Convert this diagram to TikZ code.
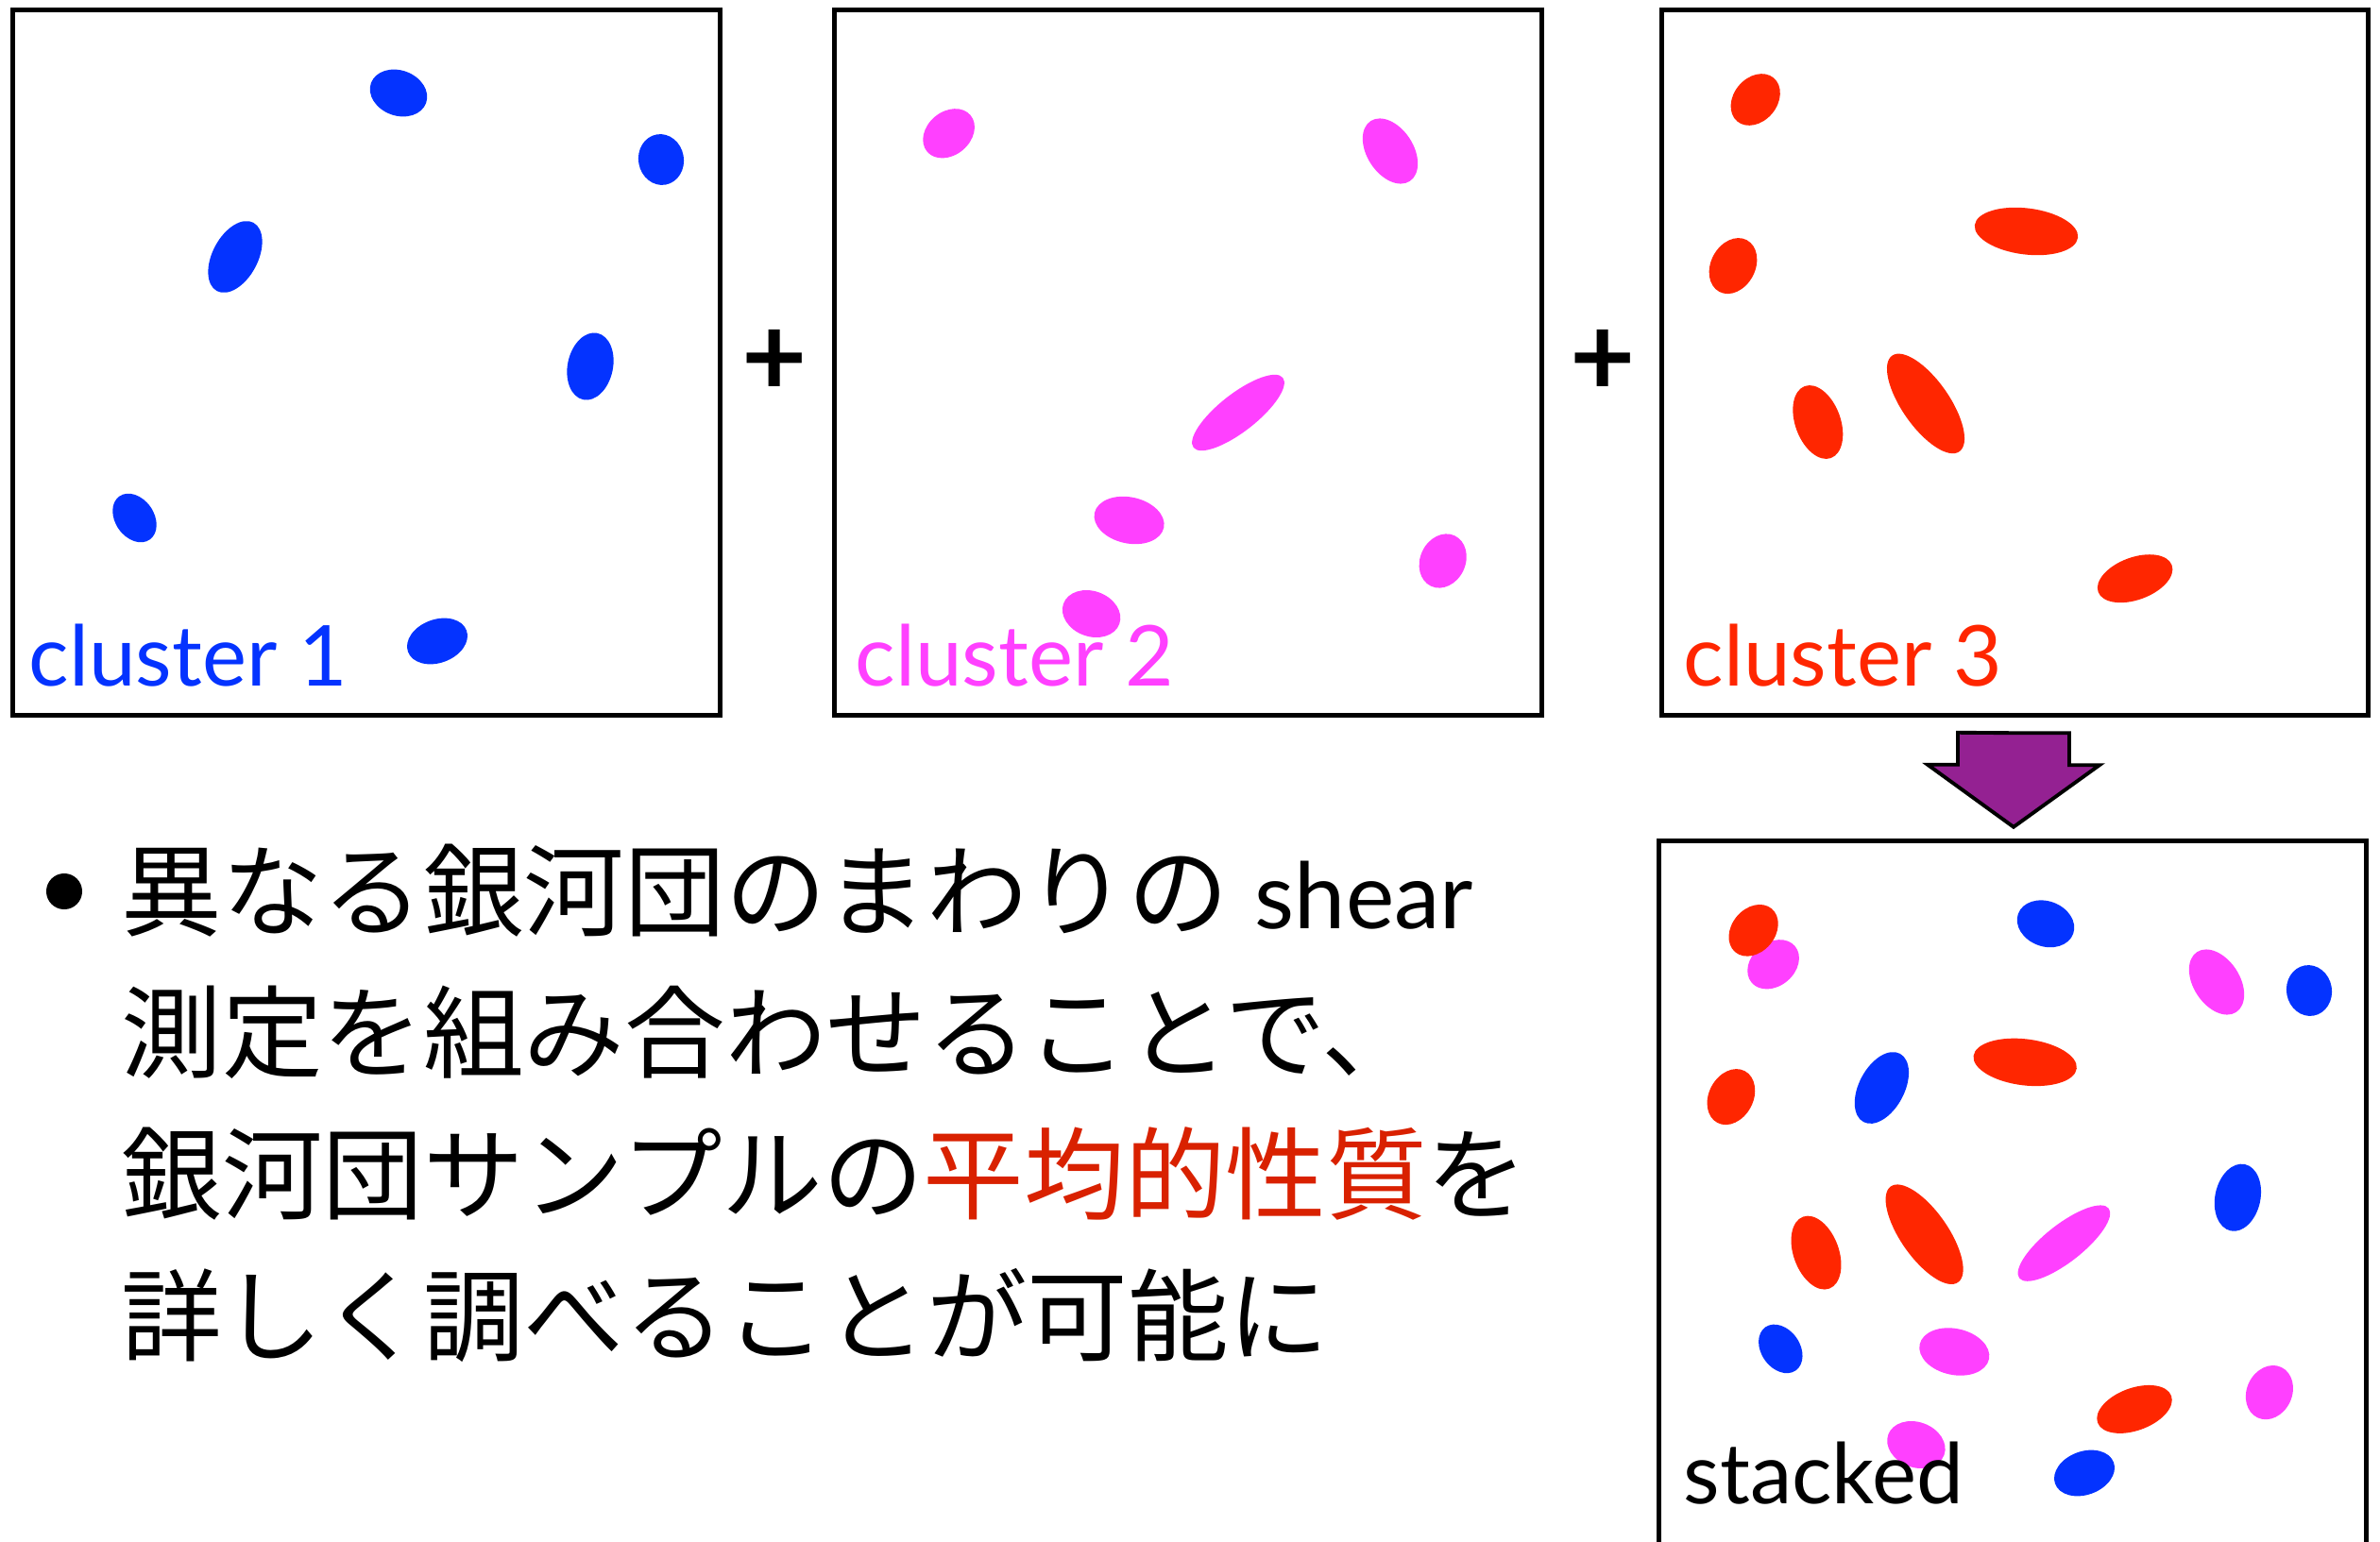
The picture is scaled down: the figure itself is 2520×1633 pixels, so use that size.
\documentclass[tikz,border=0pt]{standalone}
\usepackage{fontspec}
\setmainfont{Lato}
\newfontfamily\cjk{Noto Sans CJK JP}
\newfontfamily\latin{Lato}
\usetikzlibrary{calc}
\definecolor{gblue}{RGB}{4,51,255}
\definecolor{gpink}{RGB}{255,64,255}
\definecolor{gred}{RGB}{255,38,0}
\definecolor{tred}{RGB}{217,33,0}
\definecolor{plum}{RGB}{148,33,146}
\newcommand\galaxy[6]{\fill[#1,rotate around={#6:(#2,#3)}] (#2,#3) ellipse [x radius=#4, y radius=#5];}
\begin{document}
\begin{tikzpicture}[x=0.01cm,y=-0.01cm,
 panel/.style={draw=black,line width=1.4pt,minimum width=7.48cm,minimum height=7.46cm,inner sep=0,outer sep=0},
 lbl/.style={anchor=base west,inner sep=0,font=\latin\fontsize{25.3}{30}\selectfont},
 body/.style={anchor=base west,inner sep=0,font=\cjk\fontsize{30.3}{36}\selectfont},
 plussign/.style={inner sep=0,font=\latin\bfseries\fontsize{34}{38}\selectfont},
 bigarrow/.style={draw=black,line width=1.1pt,fill=plum,line join=miter}]
\useasboundingbox (0,0) rectangle (2520,1633);
\clip (0,0) rectangle (2520,1633);
\fill[white] (0,0) rectangle (2520,1633);

% panels
\node[panel] (b1) at (388,384) {};
\node[panel] (b2) at (1258,384) {};
\node[panel] (b3) at (2133.5,384) {};
\node[panel] (st) at (2131,1264) {};

% plus signs
\node[plussign] (p1) at (820,384) {+};
\node[plussign] (p2) at (1697,384) {+};

% cluster 1
\galaxy{gblue}{422}{98.5}{31}{24}{-20}
\galaxy{gblue}{700}{169}{27}{24}{100}
\galaxy{gblue}{249}{272}{41}{24}{62}
\galaxy{gblue}{625}{388}{36}{24}{78}
\galaxy{gblue}{142.5}{548.5}{28}{20.5}{-55}
\galaxy{gblue}{463}{679}{33}{23}{20}

% cluster 2
\galaxy{gpink}{1004.6}{141.3}{30}{23}{40}
\galaxy{gpink}{1472}{160}{38}{24.5}{-57}
\galaxy{gpink}{1311}{437}{60}{20}{38}
\galaxy{gpink}{1195.6}{551}{37.5}{24.5}{-12}
\galaxy{gpink}{1527.7}{594}{29.5}{24}{65}
\galaxy{gpink}{1155.6}{650}{31.5}{24}{-20}

% cluster 3
\galaxy{gred}{1858.7}{105.5}{30}{23}{50}
\galaxy{gred}{2145.5}{245}{55}{24.5}{-7}
\galaxy{gred}{1835}{281.6}{31}{23.5}{62}
\galaxy{gred}{1924.8}{447}{40.5}{24}{-70}
\galaxy{gred}{2039}{427.4}{62}{25}{-55}
\galaxy{gred}{2260.6}{612.7}{41.5}{22.5}{20}

% stacked
\galaxy{gpink}{1877.6}{1021.3}{30}{23}{40}
\galaxy{gred}{1856.6}{985.3}{30}{23}{50}
\galaxy{gblue}{2166}{978.3}{31}{24}{-20}
\galaxy{gpink}{2347}{1040}{38}{24.5}{-57}
\galaxy{gblue}{2445}{1049}{27}{24}{100}
\galaxy{gred}{1832.9}{1161.6}{31}{23.5}{62}
\galaxy{gblue}{1992.4}{1152}{41}{24}{62}
\galaxy{gred}{2144.2}{1124.9}{55}{24.5}{-7}
\galaxy{gblue}{2369.4}{1268.2}{36}{24}{78}
\galaxy{gred}{1923}{1326.6}{40.5}{24}{-70}
\galaxy{gred}{2037.6}{1307.2}{62}{25}{-55}
\galaxy{gpink}{2185.4}{1316.6}{60}{20}{38}
\galaxy{gblue}{1885.3}{1428.4}{28}{20.5}{-55}
\galaxy{gpink}{2069.3}{1431.5}{37.5}{24.5}{-12}
\galaxy{gred}{2260}{1492.4}{41.5}{22.5}{20}
\galaxy{gpink}{2402.9}{1474.6}{29.5}{24}{65}
\galaxy{gpink}{2028.9}{1530}{31.5}{24}{-20}
\galaxy{gblue}{2207}{1560}{33}{23}{20}

% labels
\node[lbl,text=gblue] (l1) at (30,726) {cluster 1};
\node[lbl,text=gpink] (l2) at (905,726) {cluster 2};
\node[lbl,text=gred] (l3) at (1782,726) {cluster 3};
\node[lbl,text=black] (l4) at (1782,1592) {stacked};

% arrow from cluster 3 to stacked
\coordinate (atop) at ($(b3.south)+(-1.5,19)$);
\coordinate (atip) at ($(st.north)+(1,-15)$);
\draw[bigarrow] (atop) -- ++(59,0) -- ++(0,34) -- ++(32,0) -- (atip) -- ++(-91,-66) -- ++(32,0) -- ++(0,-34) -- cycle;

% bullet text
\node[circle,fill=black,minimum size=0.38cm,inner sep=0] (bul) at (68,944) {};
\node[body] (t1) at (128,983) {異なる銀河団のまわりの\hspace{8pt}{\latin\fontsize{27.6}{33}\selectfont shear}};
\node[body] (t2) at (128,1133) {測定を組み合わせることで、};
\node[body] (t3) at (128,1283) {銀河団サンプルの\textcolor{tred}{平均的性質}を};
\node[body] (t4) at (128,1433) {詳しく調べることが可能に};
\end{tikzpicture}
\end{document}
